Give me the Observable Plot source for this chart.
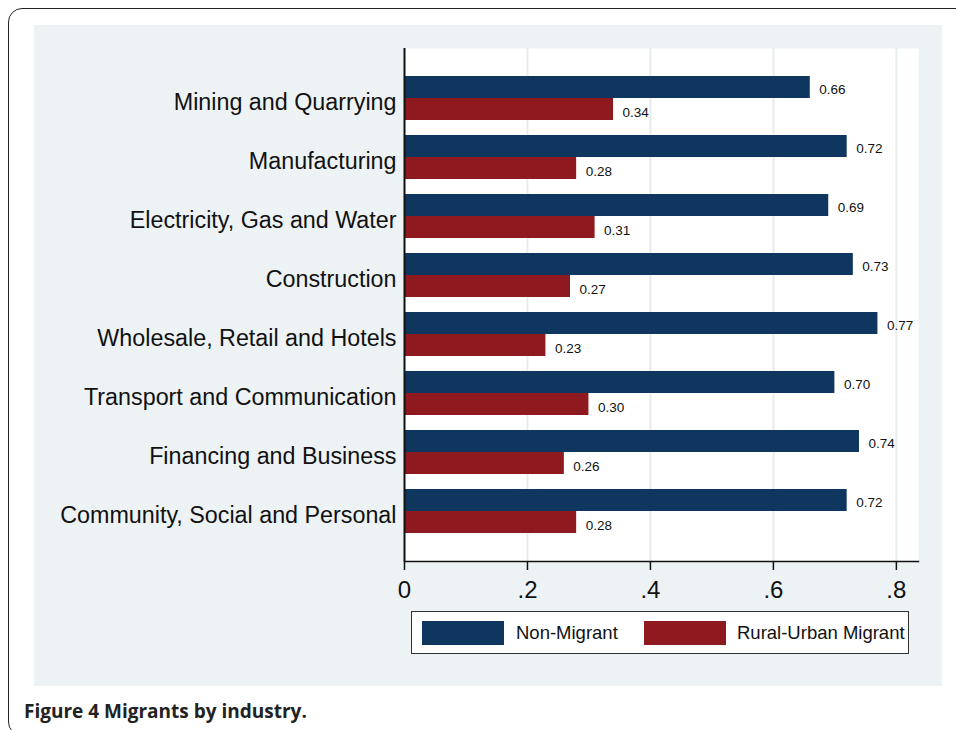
<!DOCTYPE html>
<html>
<head>
<meta charset="utf-8">
<script src="https://cdn.jsdelivr.net/npm/d3@7"></script>
<script src="https://cdn.jsdelivr.net/npm/@observablehq/plot@0.6"></script>
<style>
  html, body { margin: 0; padding: 0; background: #fff; width: 956px; height: 730px; overflow: hidden; }
  #frame { position: absolute; left: 8px; top: 8px; width: 1000px; height: 728px; border: 1.5px solid #222; border-radius: 14px; box-sizing: border-box; }
  #panel { position: absolute; left: 34px; top: 25px; width: 908px; height: 661px; background: #edf2f5; }
  #chart { position: absolute; left: 34px; top: 25px; }
  #legend { position: absolute; left: 411px; top: 611px; width: 498px; height: 43px; background: #fff; border: 1px solid #333; box-sizing: border-box; font-family: "Liberation Sans", Arial, sans-serif; font-size: 18.5px; color: #111; }
  .sw { position: absolute; top: 9px; width: 82px; height: 24px; }
  .lt { position: absolute; top: 10px; line-height: 22px; }
  #caption { position: absolute; left: 24px; top: 698px; font-family: "Open Sans", "Noto Sans", sans-serif; font-weight: 700; font-size: 19px; color: #222; }
</style>
</head>
<body>
<div id="frame"></div>
<div id="panel"></div>
<div id="chart"></div>
<div id="legend"></div>
<div id="caption">Figure 4 Migrants by industry.</div>
<script>
const industries = [
  "Mining and Quarrying",
  "Manufacturing",
  "Electricity, Gas and Water",
  "Construction",
  "Wholesale, Retail and Hotels",
  "Transport and Communication",
  "Financing and Business",
  "Community, Social and Personal"
];
const nonMigrant = [0.66, 0.72, 0.69, 0.73, 0.77, 0.70, 0.74, 0.72];
const ruralUrbanMigrant = [0.34, 0.28, 0.31, 0.27, 0.23, 0.30, 0.26, 0.28];
const seriesNames = ["Non-Migrant", "Rural-Urban Migrant"];
const seriesColors = ["#0f365f", "#8e1a1f"];
const xTicks = [0, 0.2, 0.4, 0.6, 0.8];

const rows = industries.map((ind, i) => ({industry: ind, non: nonMigrant[i], rum: ruralUrbanMigrant[i]}));
const fmt = d3.format(".2f");
const tickFmt = d => d === 0 ? "0" : d3.format(".1f")(d).replace(/^0/, "");

const chart = Plot.plot({
  width: 908,
  height: 586,
  marginLeft: 370,
  marginRight: 24,
  marginTop: 23,
  marginBottom: 50,
  style: {background: "transparent", fontFamily: "'Liberation Sans', Arial, sans-serif", color: "#111"},
  x: {domain: [0, 0.836]},
  y: {domain: industries, paddingInner: 0.258, paddingOuter: 0.4545},
  marks: [
    Plot.frame({fill: "white", stroke: null}),
    Plot.ruleX(xTicks.filter(d => d > 0), {stroke: "#e6edf1", strokeWidth: 2}),
    Plot.barX(rows, {x: "non", y: "industry", fill: seriesColors[0], insetBottom: 22}),
    Plot.barX(rows, {x: "rum", y: "industry", fill: seriesColors[1], insetTop: 22}),
    Plot.text(rows, {x: "non", y: "industry", text: d => fmt(d.non), dx: 9, dy: -8.5, textAnchor: "start", fontSize: 13.5, fill: "#111"}),
    Plot.text(rows, {x: "rum", y: "industry", text: d => fmt(d.rum), dx: 9, dy: 13.7, textAnchor: "start", fontSize: 13.5, fill: "#111"}),
    Plot.axisY({tickSize: 0, tickPadding: 8, fontSize: 23.3, dy: 4, label: null}),
    Plot.axisX({ticks: xTicks, tickFormat: tickFmt, tickSize: 9, tickPadding: 10, fontSize: 24, label: null, stroke: "#111", strokeWidth: 1.5}),
    Plot.frame({anchor: "bottom", stroke: "#111", strokeWidth: 1.5}),
    Plot.ruleX([0], {stroke: "#111", strokeWidth: 2})
  ]
});
document.getElementById("chart").appendChild(chart);

const legend = document.getElementById("legend");
const swX = [10, 232];
const txX = [104, 325];
seriesNames.forEach((name, i) => {
  const sw = document.createElement("div");
  sw.className = "sw";
  sw.style.left = swX[i] + "px";
  sw.style.background = seriesColors[i];
  legend.appendChild(sw);
  const t = document.createElement("div");
  t.className = "lt";
  t.style.left = txX[i] + "px";
  t.textContent = name;
  legend.appendChild(t);
});
</script>
</body>
</html>
